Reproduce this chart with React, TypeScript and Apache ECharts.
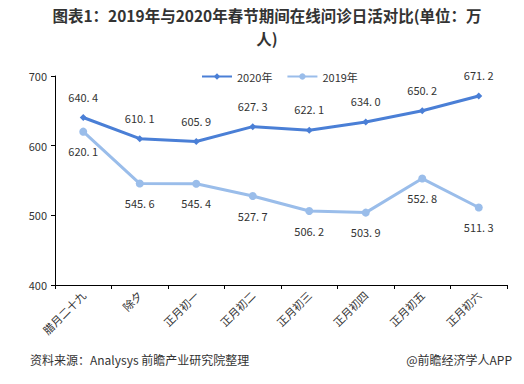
import React, { useEffect, useRef } from "react";
import * as echarts from "echarts";

const categories = ["腊月二十九", "除夕", "正月初一", "正月初二", "正月初三", "正月初四", "正月初五", "正月初六"];
const values2020 = [640.4, 610.1, 605.9, 627.3, 622.1, 634.0, 650.2, 671.2];
const values2019 = [620.1, 545.6, 545.4, 527.7, 506.2, 503.9, 552.8, 511.3];
const yTicks = [400, 500, 600, 700];

const fmt = (v: number) => v.toFixed(1).replace(".", ". ");

export default function App() {
  const ref = useRef<HTMLDivElement>(null);
  useEffect(() => {
    if (!ref.current) return;
    const chart = echarts.init(ref.current, null, { renderer: "svg" });
    const font = "'Noto Sans CJK SC', sans-serif";
    chart.setOption({
      animation: false,
      backgroundColor: "#ffffff",
      textStyle: { fontFamily: font },
      graphic: [
        {
          type: "text",
          x: 267,
          y: 15,
          style: {
            text: "图表1：2019年与2020年春节期间在线问诊日活对比(单位：万",
            fontSize: 15.5,
            fontWeight: "bold",
            fill: "#333333",
            fontFamily: font,
            align: "center",
            verticalAlign: "middle",
          },
        },
        {
          type: "text",
          x: 267,
          y: 38,
          style: {
            text: "人)",
            fontSize: 15.5,
            fontWeight: "bold",
            fill: "#333333",
            fontFamily: font,
            align: "center",
            verticalAlign: "middle",
          },
        },
        {
          type: "text",
          left: 30,
          top: 353,
          style: { text: "资料来源：Analysys 前瞻产业研究院整理", fontSize: 12, fill: "#333333", fontFamily: font },
        },
        {
          type: "text",
          right: 12,
          top: 353,
          style: { text: "@前瞻经济学人APP", fontSize: 12, fill: "#333333", fontFamily: font },
        },
      ],
      legend: {
        top: 66,
        left: 196,
        itemWidth: 30,
        itemHeight: 8,
        itemGap: 14,
        textStyle: { fontSize: 11, color: "#333333", fontFamily: font },
        data: ["2020年", "2019年"],
      },
      grid: { left: 55, right: 17, top: 76, bottom: 99 },
      xAxis: {
        type: "category",
        data: categories,
        boundaryGap: true,
        axisLine: { lineStyle: { color: "#000000", width: 1 } },
        axisTick: { show: true, alignWithLabel: false, length: 4, lineStyle: { color: "#000000" } },
        axisLabel: { rotate: 45, fontSize: 11, color: "#333333", margin: 8, interval: 0, fontFamily: font },
      },
      yAxis: {
        type: "value",
        min: 400,
        max: 700,
        interval: 100,
        axisLine: { show: true, lineStyle: { color: "#000000", width: 1 } },
        axisTick: { show: true, length: 4, lineStyle: { color: "#000000" } },
        axisLabel: {
          fontSize: 11,
          color: "#333333",
          margin: 8,
          fontFamily: font,
          formatter: (v: number) => (yTicks.includes(v) ? String(v) : ""),
        },
        splitLine: { show: false },
      },
      series: [
        {
          name: "2020年",
          type: "line",
          data: values2020,
          symbol: "diamond",
          symbolSize: 7,
          color: "#4a7fd6",
          lineStyle: { width: 3, color: "#4a7fd6" },
          itemStyle: { color: "#4a7fd6" },
          label: {
            show: true,
            position: "top",
            distance: 12,
            fontSize: 11,
            color: "#333333",
            fontFamily: font,
            formatter: (p: any) => fmt(p.value),
          },
        },
        {
          name: "2019年",
          type: "line",
          data: values2019,
          symbol: "circle",
          symbolSize: 8,
          color: "#9abdea",
          lineStyle: { width: 3, color: "#9abdea" },
          itemStyle: { color: "#9abdea" },
          label: {
            show: true,
            position: "bottom",
            distance: 10,
            fontSize: 11,
            color: "#333333",
            fontFamily: font,
            formatter: (p: any) => fmt(p.value),
          },
        },
      ],
    });
    return () => chart.dispose();
  }, []);
  return (
    <div
      ref={ref}
      style={{ position: "fixed", left: 0, top: 0, width: 524, height: 384 }}
    />
  );
}
